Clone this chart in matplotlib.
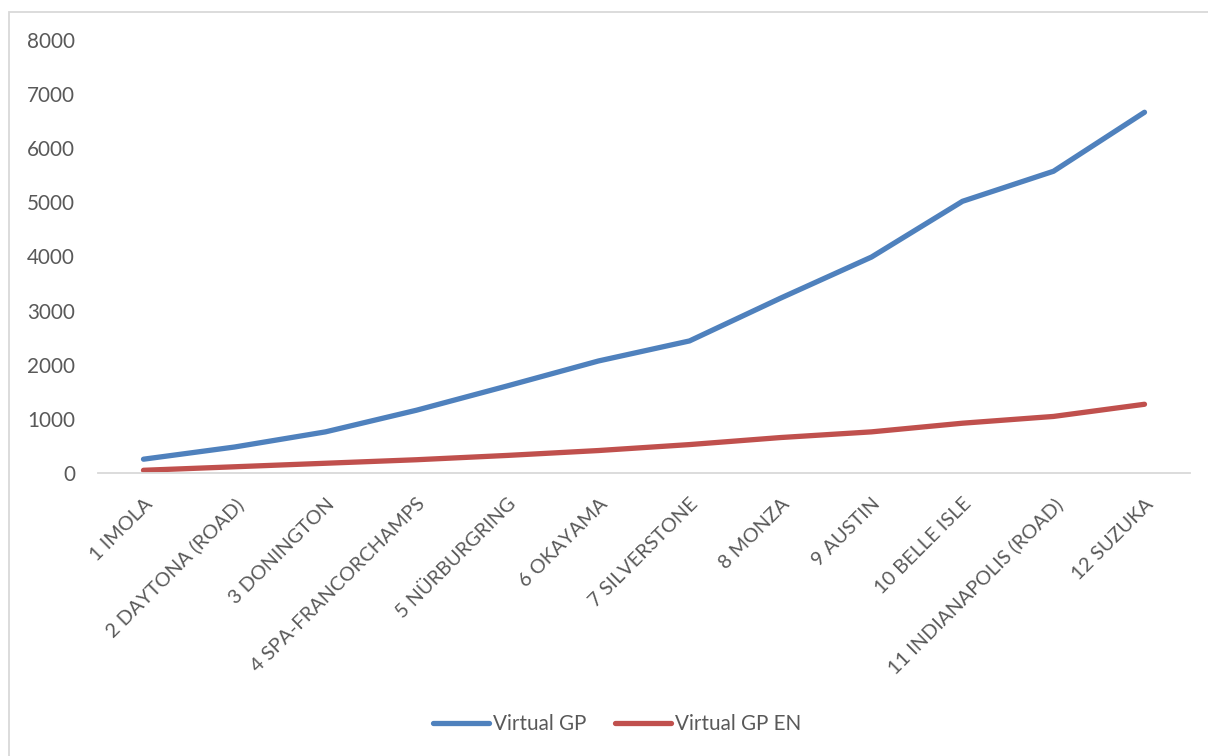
import matplotlib
matplotlib.use("Agg")
import matplotlib.pyplot as plt
from matplotlib.patches import Rectangle

categories = ["1 IMOLA", "2 DAYTONA (ROAD)", "3 DONINGTON", "4 SPA-FRANCORCHAMPS",
              "5 NÜRBURGRING", "6 OKAYAMA", "7 SILVERSTONE", "8 MONZA", "9 AUSTIN",
              "10 BELLE ISLE", "11 INDIANAPOLIS (ROAD)", "12 SUZUKA"]
virtual_gp = [255, 480, 760, 1160, 1610, 2070, 2440, 3230, 3990, 5020, 5575, 6665]
virtual_gp_en = [50, 115, 180, 245, 325, 415, 525, 655, 760, 920, 1045, 1270]
y_ticks = [0, 1000, 2000, 3000, 4000, 5000, 6000, 7000, 8000]

W, H = 1208, 756
fig = plt.figure(figsize=(W / 100, H / 100), dpi=100)
plt.rcParams['font.family'] = ['Lato', 'DejaVu Sans']
txt = '#595959'
fs = 14.9

ax = fig.add_axes([98 / W, 1 - 473 / H, (1190 - 98) / W, (473 - 40) / H])
x = list(range(len(categories)))
ax.plot(x, virtual_gp, color='#4F81BD', lw=3.8, solid_capstyle='round', solid_joinstyle='round', label='Virtual GP')
ax.plot(x, virtual_gp_en, color='#C0504D', lw=3.8, solid_capstyle='round', solid_joinstyle='round', label='Virtual GP EN')
ax.set_xlim(-0.5, len(categories) - 0.5)
ax.set_ylim(0, 8000)
ax.set_yticks(y_ticks)
ax.set_yticklabels([str(v) for v in y_ticks], fontsize=fs, color=txt)
ax.set_xticks(x)
ax.set_xticklabels(categories, rotation=45, ha='right', rotation_mode='anchor', fontsize=14.3, color=txt)
ax.tick_params(axis='y', length=0, pad=16.5)
ax.tick_params(axis='x', length=0, pad=16)
for s in ['top', 'right', 'left']:
    ax.spines[s].set_visible(False)
ax.spines['bottom'].set_color('#D9D9D9')
ax.spines['bottom'].set_linewidth(1.3)
ax.set_facecolor('none')

# chart border (partially visible)
fig.add_artist(Rectangle((9 / W, -0.1), 1.2, 1 - 12 / H + 0.1, transform=fig.transFigure,
                         fill=False, edgecolor='#D9D9D9', lw=1.3))

leg = fig.legend(loc='center', bbox_to_anchor=(617 / W, 1 - 724 / H), ncol=2, frameon=False,
                 fontsize=fs, handlelength=2.7, handletextpad=0.2, columnspacing=1.4)
for t in leg.get_texts():
    t.set_color(txt)

fig.savefig('out.png', dpi=100)
